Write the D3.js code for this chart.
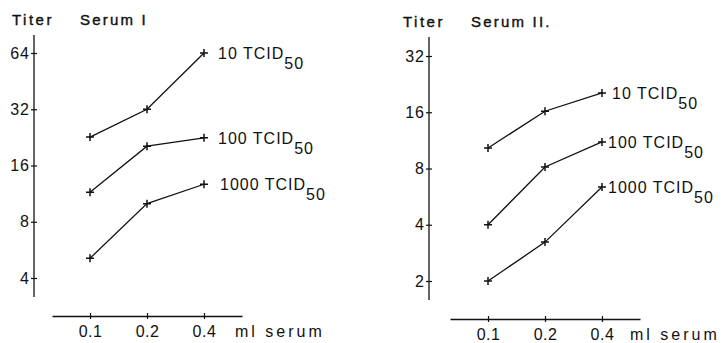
<!DOCTYPE html>
<html>
<head>
<meta charset="utf-8">
<script src="https://cdn.jsdelivr.net/npm/d3@7/dist/d3.min.js"></script>
<style>
  body { margin: 0; background: #fff; }
  svg { display: block; }
  text { font-family: "Liberation Sans", "DejaVu Sans", sans-serif; fill: #111; }
</style>
</head>
<body>
<div id="chart"></div>
<script>
// doses along the x axis
const doses = ["0.1", "0.2", "0.4"];
const seriesNames = ["10 TCID", "100 TCID", "1000 TCID"];

// titers (log2 scale)
const serumI_10 = [22.7, 32, 64];
const serumI_100 = [11.5, 20.3, 22.5];
const serumI_1000 = [5.1, 10, 12.7];
const serumITicks = [4, 8, 16, 32, 64];

const serumII_10 = [10.3, 16.2, 20.3];
const serumII_100 = [4, 8.15, 11.1];
const serumII_1000 = [2, 3.23, 6.37];
const serumIITicks = [2, 4, 8, 16, 32];

const width = 725, height = 343;

const svg = d3.select("#chart")
    .append("svg")
    .attr("width", width)
    .attr("height", height);

const panels = [
    {
        title: "Serum I", series: [serumI_10, serumI_100, serumI_1000], ticks: serumITicks,
        axisX: 34, yTop: 35, yBottom: 297, yRange: [278, 53],
        xAxisY: 316, xRange: [52, 242], titleX: 12, serumX: 80, titleY: 25,
        labelDx: [14, 14, 16], mlX: 235
    },
    {
        title: "Serum II.", series: [serumII_10, serumII_100, serumII_1000], ticks: serumIITicks,
        axisX: 429, yTop: 37, yBottom: 300, yRange: [281, 56],
        xAxisY: 319, xRange: [450, 640], titleX: 403, serumX: 471, titleY: 27,
        labelDx: [10, 6, 6], mlX: 630
    }
];

panels.forEach(p => {
    const g = svg.append("g");

    const yScale = d3.scaleLog()
        .base(2)
        .domain([p.ticks[0], p.ticks[p.ticks.length - 1]])
        .range(p.yRange);

    const xScale = d3.scalePoint()
        .domain(doses)
        .range(p.xRange)
        .padding(0.667);

    // y axis
    g.append("line")
        .attr("x1", p.axisX).attr("x2", p.axisX)
        .attr("y1", p.yTop).attr("y2", p.yBottom)
        .attr("stroke", "#111").attr("stroke-width", 1.3);

    const yAxis = d3.axisLeft(yScale)
        .tickValues(p.ticks)
        .tickFormat(d3.format("d"))
        .tickSizeOuter(0);

    const yg = g.append("g")
        .attr("transform", `translate(${p.axisX},0)`)
        .call(yAxis);
    yg.select(".domain").remove();
    yg.selectAll(".tick line").attr("x1", -3).attr("x2", 3).attr("stroke", "#111").attr("stroke-width", 1.2);
    yg.selectAll(".tick text")
        .attr("x", -4)
        .style("font-size", "16px")
        .style("letter-spacing", "1px")
        .style("font-family", "'Liberation Sans', sans-serif")
        .attr("fill", "#111");

    // x axis
    const xAxis = d3.axisBottom(xScale).tickSizeOuter(0);
    const xg = g.append("g")
        .attr("transform", `translate(0,${p.xAxisY})`)
        .call(xAxis);
    xg.select(".domain").attr("stroke", "#111").attr("stroke-width", 1.3);
    xg.selectAll(".tick line").attr("y1", -3).attr("y2", 3).attr("stroke", "#111").attr("stroke-width", 1.2);
    xg.selectAll(".tick text")
        .attr("y", 10)
        .style("font-size", "16px")
        .style("letter-spacing", "0.5px")
        .style("font-family", "'Liberation Sans', sans-serif")
        .attr("fill", "#111");

    g.append("text")
        .attr("x", p.mlX)
        .attr("y", p.xAxisY + 21)
        .style("font-size", "16px")
        .style("letter-spacing", "3px")
        .text("ml serum");

    // titles
    g.append("text")
        .attr("x", p.titleX).attr("y", p.titleY)
        .style("font-size", "15px")
        .style("stroke", "#111").style("stroke-width", 0.4)
        .style("letter-spacing", "2.5px")
        .text("Titer");
    g.append("text")
        .attr("x", p.serumX).attr("y", p.titleY)
        .style("font-size", "15px")
        .style("stroke", "#111").style("stroke-width", 0.4)
        .style("letter-spacing", "2.2px")
        .text(p.title);

    // lines and markers
    const line = d3.line()
        .x((d, i) => xScale(doses[i]))
        .y(d => yScale(d));

    p.series.forEach((values, si) => {
        g.append("path")
            .datum(values)
            .attr("d", line)
            .attr("fill", "none")
            .attr("stroke", "#111")
            .attr("stroke-width", 1.3);

        g.selectAll(null)
            .data(values)
            .enter()
            .append("path")
            .attr("transform", (d, i) => `translate(${xScale(doses[i])},${yScale(d)})`)
            .attr("d", "M-4,0H4M0,-4V4")
            .attr("stroke", "#111")
            .attr("stroke-width", 1.5);

        const last = values[values.length - 1];
        const label = g.append("text")
            .attr("x", xScale(doses[doses.length - 1]) + p.labelDx[si])
            .attr("y", yScale(last) + 6)
            .style("font-size", "16px")
            .style("letter-spacing", "1px");
        label.append("tspan").text(seriesNames[si]);
        label.append("tspan")
            .attr("dy", 10)
            .style("font-size", "16px")
            .text("50");
    });
});
</script>
</body>
</html>
